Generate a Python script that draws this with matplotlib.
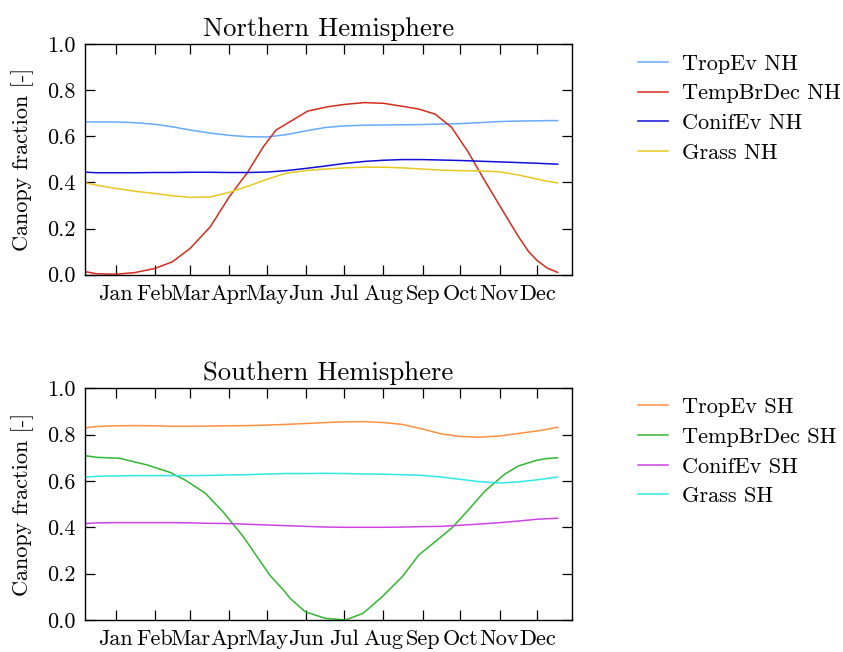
import matplotlib
matplotlib.use('Agg')
import matplotlib.pyplot as plt

plt.rcParams['font.family'] = 'serif'
plt.rcParams['font.serif'] = ['cmr10']
plt.rcParams['mathtext.fontset'] = 'cm'
plt.rcParams['axes.formatter.use_mathtext'] = True
plt.rcParams['font.size'] = 16

# day of year of each sample
days = [-8, 0, 15, 30, 46, 60, 74, 90, 105, 120, 135, 150, 166, 181, 196,
        212, 227, 242, 258, 273, 288, 303, 319, 334, 349, 357, 365]
# the deciduous curves change fast, so they are read at their own days
days_dec_nh = [-8, 0, 15, 30, 46, 60, 74, 90, 105, 119, 132, 142, 153, 167, 183,
               196, 212, 227, 242, 255, 268, 281, 294, 307, 322, 334, 342, 349, 357, 365]
days_dec_sh = [-8, 0, 18, 40, 58, 70, 86, 100, 116, 137, 149, 153, 165, 181, 197,
               211, 226, 242, 255, 268, 281, 293, 307, 323, 334, 349, 357, 365]

month_ticks = [15, 46, 74, 105, 135, 166, 196, 227, 258, 288, 319, 349]
month_labels = ['Jan', 'Feb', 'Mar', 'Apr', 'May', 'Jun',
                'Jul', 'Aug', 'Sep', 'Oct', 'Nov', 'Dec']

# northern hemisphere
tropev_nh = [0.662, 0.662, 0.662, 0.659, 0.652, 0.641, 0.627, 0.614, 0.604, 0.598, 0.597, 0.607, 0.624, 0.638,
             0.645, 0.648, 0.649, 0.650, 0.651, 0.653, 0.655, 0.659, 0.664, 0.666, 0.667, 0.668, 0.668]
tempbrdec_nh = [0.012, 0.004, 0.002, 0.009, 0.027, 0.056, 0.114, 0.208, 0.338, 0.44, 0.555, 0.627, 0.663, 0.709,
                0.728, 0.738, 0.746, 0.743, 0.73, 0.718, 0.696, 0.639, 0.533, 0.41, 0.273, 0.165, 0.1, 0.06,
                0.028, 0.01]
conifev_nh = [0.444, 0.442, 0.442, 0.442, 0.443, 0.443, 0.444, 0.444, 0.443, 0.443, 0.445, 0.451, 0.461, 0.471,
              0.482, 0.491, 0.496, 0.499, 0.499, 0.497, 0.495, 0.492, 0.489, 0.486, 0.483, 0.481, 0.479]
grass_nh = [0.397, 0.388, 0.374, 0.362, 0.352, 0.342, 0.335, 0.337, 0.357, 0.384, 0.414, 0.44, 0.452, 0.458,
            0.463, 0.466, 0.466, 0.463, 0.458, 0.453, 0.451, 0.45, 0.446, 0.432, 0.414, 0.405, 0.398]

# southern hemisphere
tropev_sh = [0.830, 0.835, 0.838, 0.839, 0.838, 0.836, 0.836, 0.837, 0.838, 0.839, 0.841, 0.844, 0.848, 0.852,
             0.855, 0.856, 0.852, 0.844, 0.824, 0.803, 0.792, 0.789, 0.794, 0.805, 0.816, 0.823, 0.832]
tempbrdec_sh = [0.708, 0.702, 0.698, 0.669, 0.637, 0.604, 0.547, 0.467, 0.36, 0.194, 0.122, 0.094, 0.036, 0.007,
                0.0, 0.029, 0.10, 0.187, 0.28, 0.338, 0.396, 0.467, 0.554, 0.629, 0.665, 0.69, 0.697, 0.7]
conifev_sh = [0.417, 0.419, 0.420, 0.420, 0.420, 0.420, 0.419, 0.417, 0.416, 0.413, 0.410, 0.407, 0.404, 0.401,
              0.400, 0.400, 0.400, 0.401, 0.403, 0.404, 0.409, 0.414, 0.420, 0.427, 0.435, 0.437, 0.439]
grass_sh = [0.617, 0.620, 0.622, 0.623, 0.623, 0.623, 0.623, 0.624, 0.626, 0.627, 0.630, 0.632, 0.632, 0.633,
            0.632, 0.630, 0.629, 0.627, 0.624, 0.617, 0.607, 0.597, 0.591, 0.596, 0.605, 0.611, 0.617]


def panel(ax, series, title, legend_top):
    for x, values, label, color in series:
        ax.plot(x, values, color=color, lw=1.1, label=label)
    ax.set_xlim(-9.3, 376)
    ax.set_ylim(0, 1)
    ax.set_xticks(month_ticks)
    ax.set_xticklabels(month_labels)
    ax.set_yticks([0.0, 0.2, 0.4, 0.6, 0.8, 1.0])
    ax.set_yticklabels(['0.0', '0.2', '0.4', '0.6', '0.8', '1.0'])
    ax.tick_params(direction='in', top=True, right=True, length=7.5, width=0.9, pad=7, labelsize=16)
    for s in ax.spines.values():
        s.set_linewidth(1.0)
    ax.set_ylabel('Canopy fraction [-]', fontsize=16, labelpad=9)
    ax.set_title(title, fontsize=19.2)
    ax.legend(loc='upper left', bbox_to_anchor=(0.757, legend_top), bbox_transform=fig.transFigure,
              frameon=False, borderpad=0, borderaxespad=0, handlelength=1.35, handletextpad=0.63,
              labelspacing=0.455, fontsize=16)


fig = plt.figure(figsize=(8.43, 6.52), dpi=100)
ax1 = fig.add_axes([0.1008, 0.5787, 0.5772, 0.3538])
ax2 = fig.add_axes([0.1008, 0.0491, 0.5772, 0.3554])

panel(ax1, [(days, tropev_nh, 'TropEv NH', '#66aaff'),
            (days_dec_nh, tempbrdec_nh, 'TempBrDec NH', '#d42c1c'),
            (days, conifev_nh, 'ConifEv NH', '#1010d8'),
            (days, grass_nh, 'Grass NH', '#e8c820')],
      'Northern Hemisphere', 0.917)
panel(ax2, [(days, tropev_sh, 'TropEv SH', '#ff9040'),
            (days_dec_sh, tempbrdec_sh, 'TempBrDec SH', '#30b830'),
            (days, conifev_sh, 'ConifEv SH', '#cc44e4'),
            (days, grass_sh, 'Grass SH', '#30e8e8')],
      'Southern Hemisphere', 0.390)

fig.savefig('out.png', dpi=100)
